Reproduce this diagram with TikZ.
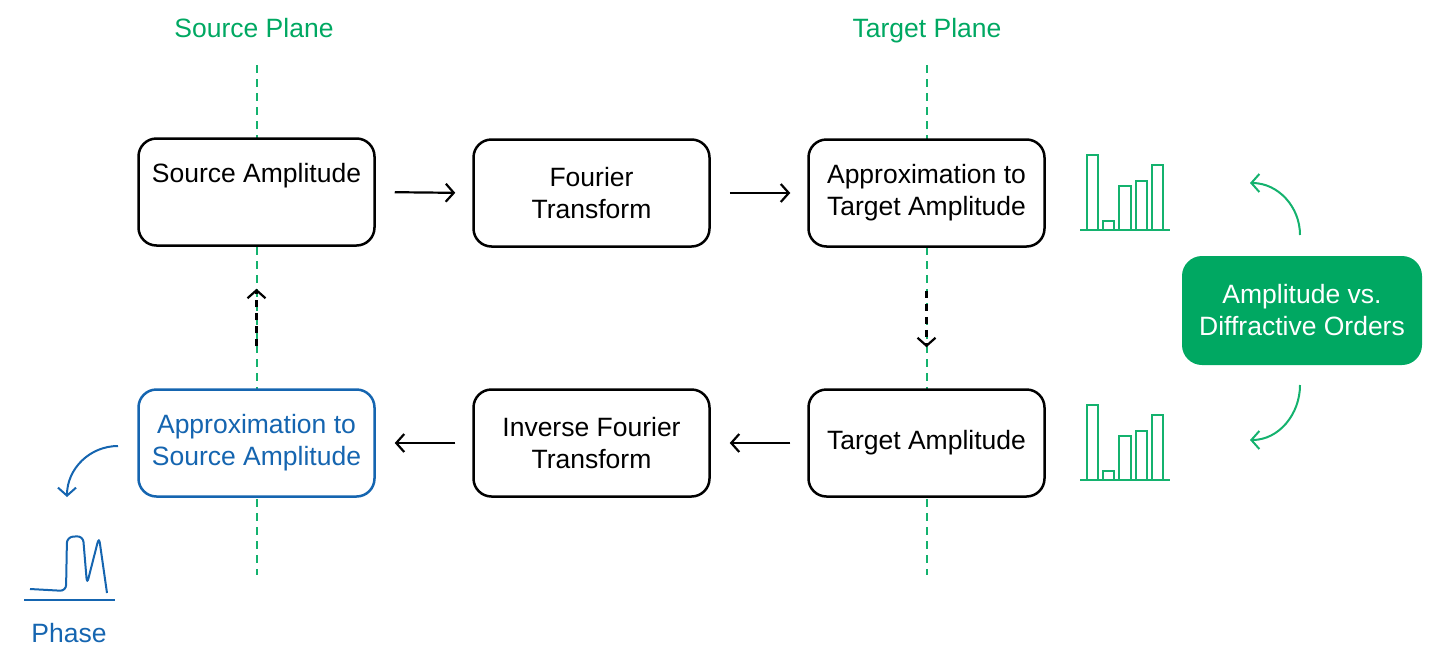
\documentclass[tikz,border=0pt]{standalone}
\usepackage{fontspec}
\setmainfont{Liberation Sans}
\usetikzlibrary{arrows.meta}
\definecolor{pgreen}{RGB}{0,168,98}
\definecolor{lgreen}{RGB}{20,178,110}
\definecolor{pblue}{RGB}{21,101,176}
\begin{document}
\begin{tikzpicture}[x=1pt,y=1pt,
  txt/.style={font=\fontsize{26.5}{32}\selectfont},
  box/.style={txt,draw=black,line width=2.5pt,rounded corners=18pt,fill=white,
    minimum width=236pt,minimum height=107pt,align=center,inner sep=0pt},
  plane/.style={lgreen,line width=2pt,dash pattern=on 8pt off 6pt},
  arr/.style={line width=2.2pt,-{Straight Barb[length=8pt,width=18pt,line width=2.2pt]}},
  garr/.style={lgreen,line width=2pt,-{Straight Barb[length=8pt,width=18pt,line width=2pt]}},
  bar/.style={lgreen,line width=2.5pt},
]
\useasboundingbox (0,0) rectangle (1443,-646);
% plane labels
\node[txt,text=pgreen,anchor=base] (lsrc) at (254,-37) {Source Plane};
\node[txt,text=pgreen,anchor=base] (ltgt) at (927,-37) {Target Plane};
% dashed planes
\coordinate (s1) at (257,-65); \coordinate (s2) at (257,-575);
\coordinate (t1) at (927,-65); \coordinate (t2) at (927,-575);
\draw[plane] (s1) -- (s2);
\draw[plane] (t1) -- (t2);
% boxes
\node[box] (src) at (256.5,-192) {\raisebox{-4pt}{Source Amplitude}\\\strut};
\node[box] (ft) at (591.5,-193) {Fourier\\Transform};
\node[box] (apt) at (926.5,-193) {Approximation to\\Target Amplitude};
\node[box,draw=pblue,text=pblue] (asrc) at (256.5,-443) {Approximation to\\Source Amplitude};
\node[box] (ift) at (591.5,-443) {Inverse Fourier\\Transform};
\node[box] (tgt) at (926.5,-443) {Target Amplitude};
\node[txt,fill=pgreen,text=white,rounded corners=20pt,minimum width=240pt,
  minimum height=109pt,align=center,inner sep=0pt] (dob) at (1302,-310.5)
  {Amplitude vs.\\Diffractive Orders};
% horizontal arrows
\draw[arr,shorten <=19pt,shorten >=17pt] (src.east) -- (ft.west);
\draw[arr,shorten <=19pt,shorten >=17pt] (ft.east) -- (apt.west);
\draw[arr,shorten <=17pt,shorten >=19pt] (tgt.west) -- (ift.east);
\draw[arr,shorten <=17pt,shorten >=19pt] (ift.west) -- (asrc.east);
% vertical arrows
\draw[arr,line width=2.5pt,dash pattern=on 7pt off 6pt,shorten <=42pt,shorten >=42pt] (asrc.north) -- (src.south);
\draw[arr,line width=2.5pt,dash pattern=on 7pt off 6pt,shorten <=43pt,shorten >=41pt] (apt.south) -- (tgt.north);
% green curved arrows
\coordinate (g1) at (1300,-235); \coordinate (g2) at (1250,-183);
\coordinate (g3) at (1300,-385); \coordinate (g4) at (1250,-440);
\draw[garr] (g1) to[out=90,in=0] (g2);
\draw[garr] (g3) to[out=-90,in=0] (g4);
% bar charts
\foreach \dy in {0,250}{
  \begin{scope}[yshift=-\dy pt]
  \draw[bar] (1087,-230) rectangle (1098,-155);
  \draw[bar] (1103,-230) rectangle (1114,-221);
  \draw[bar] (1119,-230) rectangle (1131,-186);
  \draw[bar] (1136,-230) rectangle (1147,-181);
  \draw[bar] (1152,-230) rectangle (1163,-165);
  \draw[bar] (1080,-230) -- (1170,-230);
  \end{scope}
}
% blue phase
\coordinate (b1) at (118,-446); \coordinate (b2) at (67,-497);
\draw[pblue,line width=2pt,-{Straight Barb[length=8pt,width=18pt,line width=2pt]}] (b1) to[out=180,in=90] (b2);
\draw[pblue,line width=2pt] (24,-600) -- (115,-600);
\draw[pblue,line width=2pt,rounded corners=6pt] (30,-589) -- (66,-591) -- (67,-537) -- (83,-536) -- (87,-584) -- (99,-537) -- (107,-593);
\node[txt,text=pblue,anchor=base,inner sep=1pt] (ph) at (69,-642) {Phase};
\end{tikzpicture}
\end{document}
